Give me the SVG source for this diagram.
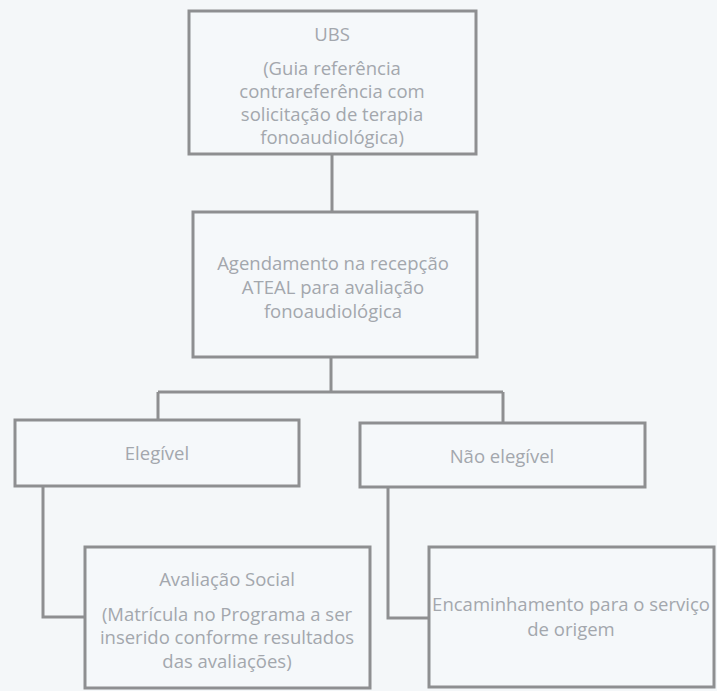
<svg xmlns="http://www.w3.org/2000/svg" width="717" height="691" viewBox="0 0 717 691">
<style>
.box{fill:#f5f8fa;stroke:#8e8f91;stroke-width:3}
.conn{fill:none;stroke:#8e8f91;stroke-width:3}
text{font-family:"Open Sans","Liberation Sans",sans-serif;font-size:18.5px;fill:#a3a7ad;text-anchor:middle;dominant-baseline:central}
</style>
<rect width="717" height="691" fill="#f4f7f9"/>
<g id="connectors">
<path class="conn" d="M332 154V212"/>
<path class="conn" d="M331 357V392M158 392H503M158 392V420M503 392V423"/>
<path class="conn" d="M43 486V617H85"/>
<path class="conn" d="M388 487V618H429"/>
</g>
<g id="ubs">
<rect class="box" x="189" y="11" width="287" height="143"/>
<text x="332" y="33">UBS</text>
<text x="332" y="67">(Guia referência</text>
<text x="332" y="90">contrareferência com</text>
<text x="332" y="113">solicitação de terapia</text>
<text x="332" y="136">fonoaudiológica)</text>
</g>
<g id="agendamento">
<rect class="box" x="193" y="212" width="284" height="145"/>
<text x="333" y="262">Agendamento na recepção</text>
<text x="333" y="286">ATEAL para avaliação</text>
<text x="333" y="310">fonoaudiológica</text>
</g>
<g id="elegivel">
<rect class="box" x="15" y="420" width="284" height="66"/>
<text x="157" y="452">Elegível</text>
</g>
<g id="nao-elegivel">
<rect class="box" x="360" y="423" width="285" height="64"/>
<text x="502" y="455">Não elegível</text>
</g>
<g id="avaliacao-social">
<rect class="box" x="85" y="547" width="285" height="141"/>
<text x="227" y="578">Avaliação Social</text>
<text x="227" y="613">(Matrícula no Programa a ser</text>
<text x="227" y="636">inserido conforme resultados</text>
<text x="227" y="660">das avaliações)</text>
</g>
<g id="encaminhamento">
<rect class="box" x="429" y="547" width="285" height="140"/>
<text x="571" y="603">Encaminhamento para o serviço</text>
<text x="571" y="628">de origem</text>
</g>
</svg>
